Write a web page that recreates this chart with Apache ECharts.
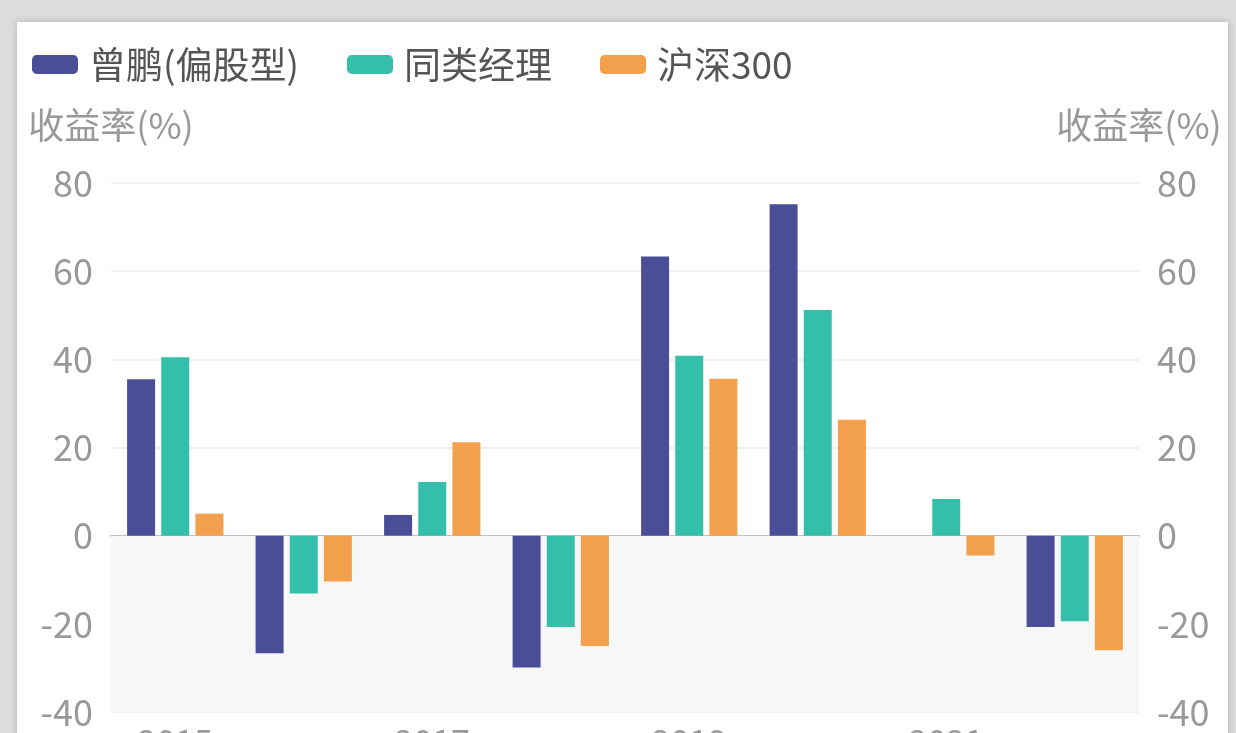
<!DOCTYPE html>
<html>
<head>
<meta charset="utf-8">
<script src="https://cdn.jsdelivr.net/npm/echarts@6/dist/echarts.min.js"></script>
<style>
html,body{margin:0;padding:0;width:1236px;height:733px;overflow:hidden;background:#dcdcdc;}
#card{position:absolute;left:17px;top:22px;width:1211px;height:760px;background:#fff;box-shadow:0 0 8px rgba(0,0,0,0.18);}
#chart{position:absolute;left:0;top:0;width:1236px;height:733px;}
</style>
</head>
<body>
<div id="card"></div>
<div id="chart"></div>
<script>
const categories = ['2015', '2016', '2017', '2018', '2019', '2020', '2021', '2022'];
const seriesNames = ['曾鹏(偏股型)', '同类经理', '沪深300'];
const zengPeng = [35.5, -26.7, 4.7, -29.9, 63.3, 75.2, null, -20.7];
const peerManagers = [40.5, -13.1, 12.2, -20.7, 40.8, 51.2, 8.3, -19.4];
const hs300 = [5.0, -10.4, 21.2, -25.0, 35.6, 26.3, -4.5, -26.0];
const yTicks = { min: -40, max: 80, interval: 20 };
const axisName = '收益率(%)';

const colors = ['#4a4e97', '#33bfaa', '#f3a04c'];
const font = 'Noto Sans CJK SC';

const chart = echarts.init(document.getElementById('chart'));
const yAxisBase = (pos) => ({
  type: 'value', position: pos,
  min: yTicks.min, max: yTicks.max, interval: yTicks.interval,
  name: axisName, nameLocation: 'end', nameGap: 40,
  nameTextStyle: { color: '#999', fontSize: 36, fontFamily: font },
  axisLine: { show: false }, axisTick: { show: false },
  axisLabel: { color: '#999', fontSize: 36, fontFamily: font, margin: 18 },
  splitLine: { show: pos === 'left', lineStyle: { color: '#efefef', width: 2 } }
});
const barBase = { type: 'bar', barWidth: 28, barGap: '22%' };
chart.setOption({
  animation: false,
  color: colors,
  legend: {
    left: 27, top: 41, itemWidth: 46, itemHeight: 19, itemGap: 48,
    icon: 'roundRect',
    textStyle: { color: '#555', fontSize: 37, fontFamily: font, padding: [0, 0, 0, 6] },
    data: seriesNames
  },
  grid: { left: 111, right: 97, top: 183, bottom: 21, outerBoundsMode: 'none', containLabel: false },
  xAxis: {
    type: 'category', data: categories,
    axisLine: { onZero: true, lineStyle: { color: '#b0b0b0', width: 2 } },
    axisTick: { show: false },
    axisLabel: { interval: 1, color: '#999', fontSize: 34, fontFamily: font, margin: 12 }
  },
  yAxis: [yAxisBase('left'), yAxisBase('right')],
  series: [
    Object.assign({}, barBase, {
      name: seriesNames[0], data: zengPeng,
      markArea: { silent: true, itemStyle: { color: '#f7f7f7' }, data: [[{ yAxis: 0 }, { yAxis: yTicks.min }]] }
    }),
    Object.assign({}, barBase, { name: seriesNames[1], data: peerManagers }),
    Object.assign({}, barBase, { name: seriesNames[2], data: hs300 })
  ]
});
</script>
</body>
</html>
